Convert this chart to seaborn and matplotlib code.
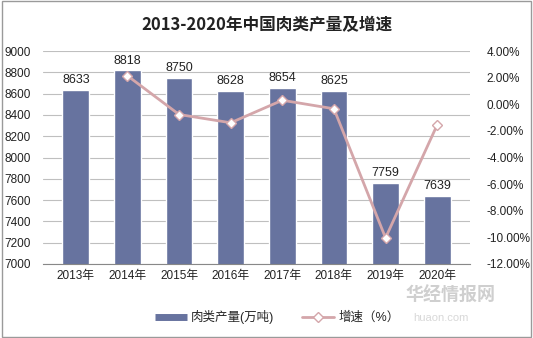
import matplotlib
matplotlib.use("Agg")
import matplotlib.pyplot as plt
import seaborn as sns
import pandas as pd
import numpy as np
from matplotlib.lines import Line2D

years = ["2013年", "2014年", "2015年", "2016年", "2017年", "2018年", "2019年", "2020年"]
output = [8633, 8818, 8750, 8628, 8654, 8625, 7759, 7639]
growth = [np.nan, 2.14, -0.77, -1.39, 0.30, -0.34, -10.04, -1.55]

sns.set_theme(style="white")
plt.rcParams["font.family"] = ["Liberation Sans", "Noto Sans CJK SC", "DejaVu Sans"]

bar_color = "#67739F"
line_color = "#D4A6AA"

df = pd.DataFrame({"year": years, "output": output, "growth": growth})

fig = plt.figure(figsize=(5.33, 3.38), dpi=100)
ax = fig.add_axes([43 / 533, 1 - 264 / 338, 427 / 533, 213 / 338])

sns.barplot(data=df, x="year", y="output", color=bar_color, width=0.52,
            saturation=1, ax=ax)
ax.set_ylim(7000, 9000)
ax.set_yticks(range(7000, 9001, 200))
ax.set_xlabel("")
ax.set_ylabel("")
ax.yaxis.grid(True, color="#BFBFBF", linewidth=0.8)
ax.set_axisbelow(True)
for s in ["top", "right", "left"]:
    ax.spines[s].set_visible(False)
ax.spines["bottom"].set_color("#888888")
ax.spines["bottom"].set_linewidth(0.8)
ax.tick_params(axis="y", labelsize=8.5, length=0, pad=-2, colors="#222222")
ax.tick_params(axis="x", labelsize=8.5, length=0, pad=4, colors="#222222")
for lab in ax.get_yticklabels():
    lab.set_horizontalalignment("left")
    lab.set_x(-41 / 427)
for i, v in enumerate(output):
    ax.text(i, v + 35, str(v), ha="center", va="bottom", fontsize=9, color="#222222")

ax2 = ax.twinx()
sns.lineplot(data=df, x="year", y="growth", ax=ax2, color=line_color, linewidth=2,
             marker="D", markersize=5.5, markerfacecolor="white",
             markeredgecolor=line_color, markeredgewidth=1)
ax2.set_ylim(-12, 4)
ax2.set_yticks(range(-12, 5, 2))
ax2.set_yticklabels([f"{v:.2f}%" for v in range(-12, 5, 2)])
ax2.set_ylabel("")
ax2.set_xlabel("")
for s in ["top", "right", "left", "bottom"]:
    ax2.spines[s].set_visible(False)
ax2.tick_params(axis="y", labelsize=8.5, length=0, pad=12, colors="#222222")

fig.text(0.5, 1 - 25 / 338, "2013-2020年中国肉类产量及增速", ha="center", va="center",
         fontsize=12, fontweight="bold", color="#222222",
         family=["Noto Sans CJK SC", "DejaVu Sans"])

handles = [
    Line2D([0], [0], color=bar_color, linewidth=5, solid_capstyle="butt"),
    Line2D([0], [0], color=line_color, linewidth=2, marker="D", markersize=5,
           markerfacecolor="white", markeredgecolor=line_color),
]
fig.legend(handles, ["肉类产量(万吨)", "增速（%）"], loc="center",
           bbox_to_anchor=(0.52, 1 - 317 / 338), ncol=2, frameon=False,
           fontsize=9, handlelength=2.6, columnspacing=2.2, handletextpad=0.3)

fig.text(0.76, 1 - 295 / 338, "华经情报网", fontsize=13, color="#CFCFCF",
         fontweight="bold", ha="left", va="center",
         family=["Noto Sans CJK SC", "DejaVu Sans"])
fig.text(0.775, 1 - 318 / 338, "huaon.com", fontsize=8, color="#D8D8D8",
         ha="left", va="center")

border = plt.Rectangle((0.003, 0.004), 0.994, 0.992, transform=fig.transFigure,
                       fill=False, edgecolor="#9A9A9A", linewidth=1)
fig.patches.append(border)

fig.savefig("out.png", dpi=100)
